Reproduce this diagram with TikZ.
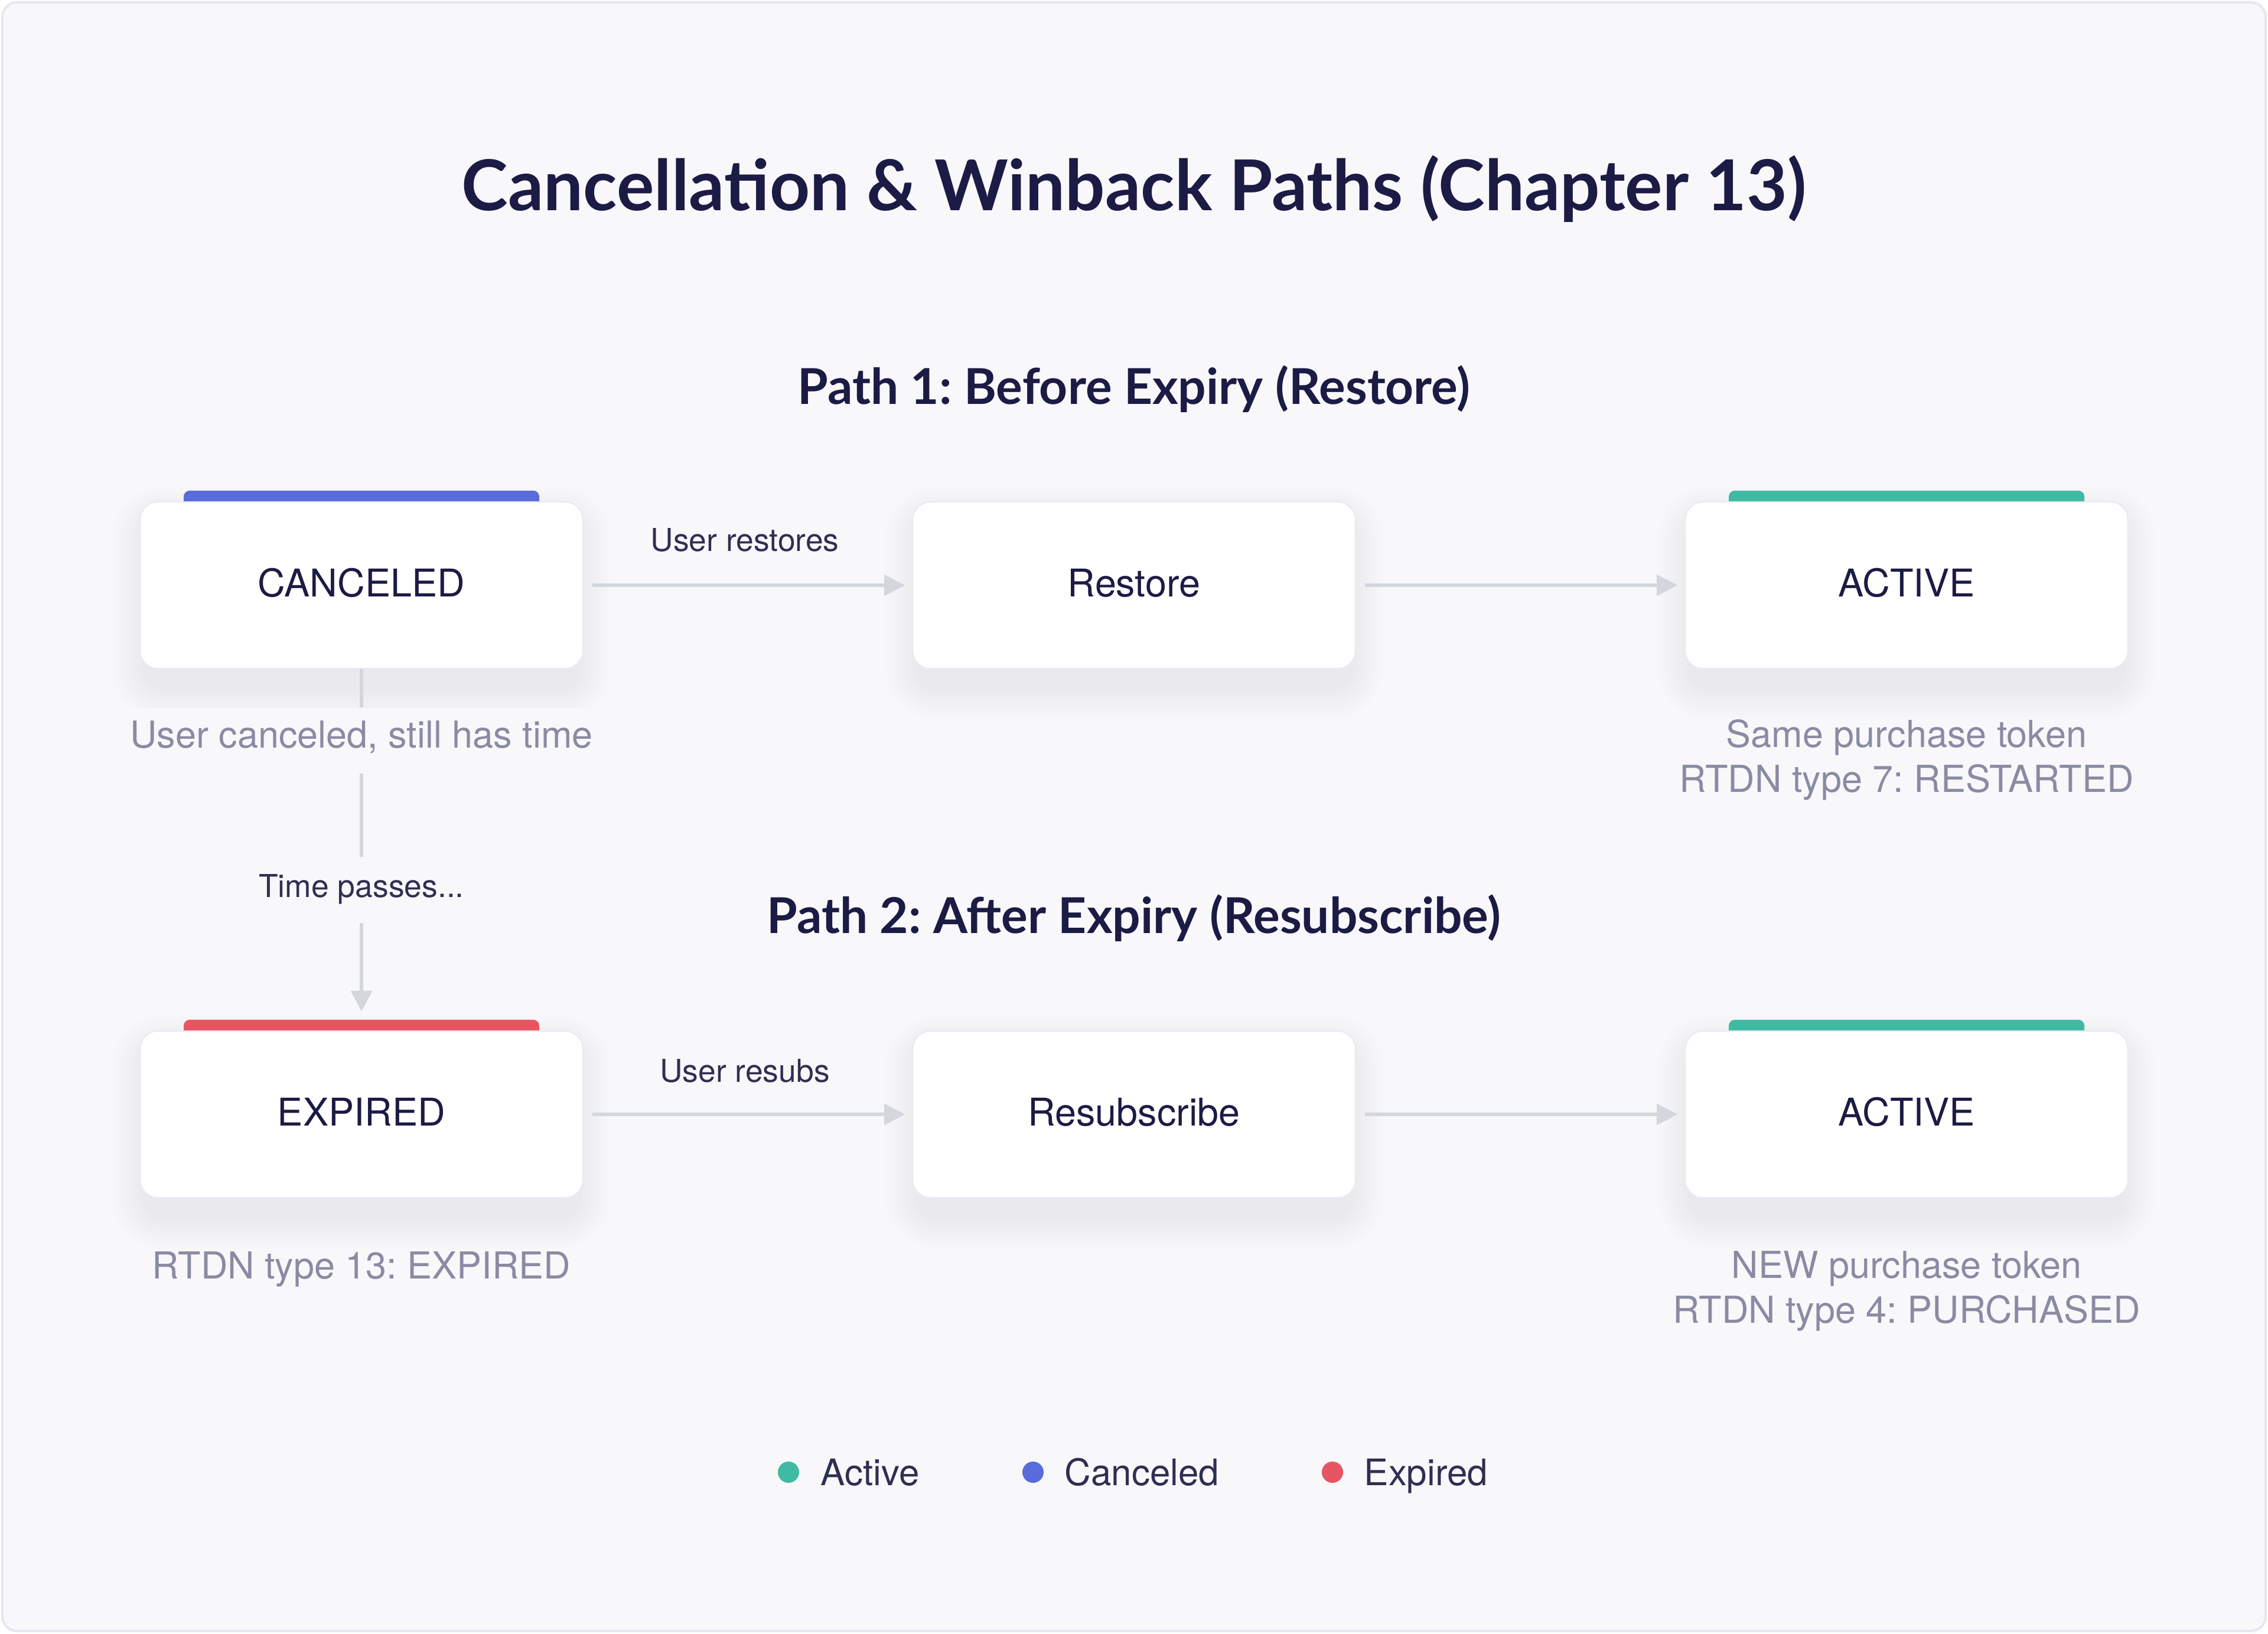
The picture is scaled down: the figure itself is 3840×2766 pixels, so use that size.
\documentclass[tikz,border=0pt]{standalone}
\usepackage{fontspec}
\setmainfont{TeX Gyre Heros}
\newfontfamily\titlefont{Lato}
\usetikzlibrary{arrows.meta,calc}
\definecolor{pagebg}{HTML}{F8F8FB}
\definecolor{frameline}{HTML}{E6E8F1}
\definecolor{boxline}{HTML}{E9EAF3}
\definecolor{ink}{HTML}{1C1B45}
\definecolor{subink}{HTML}{2F2F52}
\definecolor{noteink}{HTML}{8A8BA3}
\definecolor{arrowgray}{HTML}{D3D6DC}
\definecolor{shadowcol}{HTML}{5A5E80}
\definecolor{cblue}{HTML}{5A6BDB}
\definecolor{cgreen}{HTML}{40BBA3}
\definecolor{cred}{HTML}{E85562}
\pgfdeclarelayer{bottom}
\pgfdeclarelayer{background}
\pgfsetlayers{bottom,background,main}
\frenchspacing
\tikzset{
  statebox/.style={draw=boxline, line width=0.6pt, fill=white, rounded corners=0.3cm,
    minimum width=7.49cm, minimum height=2.82cm, inner sep=0pt,
    font=\fontsize{18.4}{22}\selectfont, text=ink, text height=1.1em, text depth=0pt},
  notetext/.style={font=\fontsize{17.9}{21.6}\selectfont, text=noteink, align=center,
    text height=0.72em, text depth=0pt, inner sep=0pt},
  edgetext/.style={font=\fontsize{15.2}{18}\selectfont, text=subink,
    text height=0.72em, text depth=0pt, inner sep=0pt},
  gapnote/.style={fill=pagebg, inner sep=12pt},
  heading/.style={font=\titlefont\bfseries\fontsize{23.8}{28}\selectfont, text=ink,
    text height=0.72em, text depth=0pt, inner sep=0pt},
  flow/.style={draw=arrowgray, line width=1.6pt, -{Triangle[length=10pt,width=10pt]}},
  plainflow/.style={draw=arrowgray, line width=1.6pt},
  legendtext/.style={font=\fontsize{17.6}{21}\selectfont, text=subink, anchor=west,
    text height=0.72em, text depth=0pt, inner sep=0pt},
  legenddot/.style={circle, inner sep=0pt, minimum size=0.36cm},
  topbar/.style={rounded corners=0.1cm}
}
\begin{document}
\begin{tikzpicture}[x=0.01cm,y=-0.01cm]
\useasboundingbox (0,0) rectangle (3840,2766);
\begin{pgfonlayer}{bottom}
  \fill[white] (0,0) rectangle (3840,2766);
  \draw[frameline, fill=pagebg, line width=1.2pt, rounded corners=0.25cm] (4,4) rectangle (3836,2762);
\end{pgfonlayer}

\node[heading, font=\titlefont\bfseries\fontsize{33.8}{40}\selectfont] (title) at (1920,344) {Cancellation \& Winback Paths (Chapter 13)};
\node[heading] (p1) at (1920,672) {Path 1: Before Expiry (Restore)};
\node[heading] (p2) at (1920,1568) {Path 2: After Expiry (Resubscribe)};

\node[statebox] (can) at (612,991) {CANCELED};
\node[statebox] (res) at (1920,991) {Restore};
\node[statebox] (act1) at (3228,991) {ACTIVE};
\node[statebox] (exp) at (612,1887) {EXPIRED};
\node[statebox] (rsb) at (1920,1887) {Resubscribe};
\node[statebox] (act2) at (3228,1887) {ACTIVE};

\begin{pgfonlayer}{background}
  \foreach \n in {can,res,act1,exp,rsb,act2}{
    \foreach \i in {1,...,14}{
      \pgfmathsetmacro{\e}{\i*4}
      \pgfmathsetmacro{\rc}{0.3+\i*0.04}
      \fill[shadowcol, opacity=0.0055, rounded corners=\rc cm]
        ($(\n.south west)+(-\e+10,\e+30)$) rectangle ($(\n.north east)+(\e-10,-\e+30)$);
    }
  }
  \fill[cblue, topbar] ($(can.north)+(-301,-18)$) rectangle ($(can.north)+(301,20)$);
  \fill[cgreen, topbar] ($(act1.north)+(-301,-18)$) rectangle ($(act1.north)+(301,20)$);
  \fill[cred, topbar] ($(exp.north)+(-301,-18)$) rectangle ($(exp.north)+(301,20)$);
  \fill[cgreen, topbar] ($(act2.north)+(-301,-18)$) rectangle ($(act2.north)+(301,20)$);
\end{pgfonlayer}

\node[edgetext] (lr) at (1261,921) {User restores};
\node[edgetext] (lrs) at (1261,1820) {User resubs};

\node[notetext, gapnote] (n1) at (612,1254) {User canceled, still has time};
\node[edgetext, gapnote] (tp) at (612,1507) {Time passes...};
\node[notetext] (n2) at (3228,1329) {Same purchase token\\RTDN type 7: RESTARTED};
\node[notetext] (n3) at (612,2153) {RTDN type 13: EXPIRED};
\node[notetext] (n4) at (3228,2228) {NEW purchase token\\RTDN type 4: PURCHASED};

\draw[flow, shorten <=4.3pt, shorten >=3.4pt] (can.east) -- (res.west);
\draw[flow, shorten <=4.3pt, shorten >=3.4pt] (res.east) -- (act1.west);
\draw[flow, shorten <=4.3pt, shorten >=3.4pt] (exp.east) -- (rsb.west);
\draw[flow, shorten <=4.3pt, shorten >=3.4pt] (rsb.east) -- (act2.west);

\begin{pgfonlayer}{background}
  \draw[plainflow] (can.south) -- (n1.north);
  \draw[plainflow] (n1.south) -- (tp.north);
  \draw[flow, shorten >=9.1pt] (tp.south) -- (exp.north);
\end{pgfonlayer}

\node[legenddot, fill=cgreen] (d1) at (1335,2493) {};
\node[legendtext] (t1) at (1389,2503) {Active};
\node[legenddot, fill=cblue] (d2) at (1749,2493) {};
\node[legendtext] (t2) at (1802,2503) {Canceled};
\node[legenddot, fill=cred] (d3) at (2256,2493) {};
\node[legendtext] (t3) at (2309,2503) {Expired};
\end{tikzpicture}
\end{document}
